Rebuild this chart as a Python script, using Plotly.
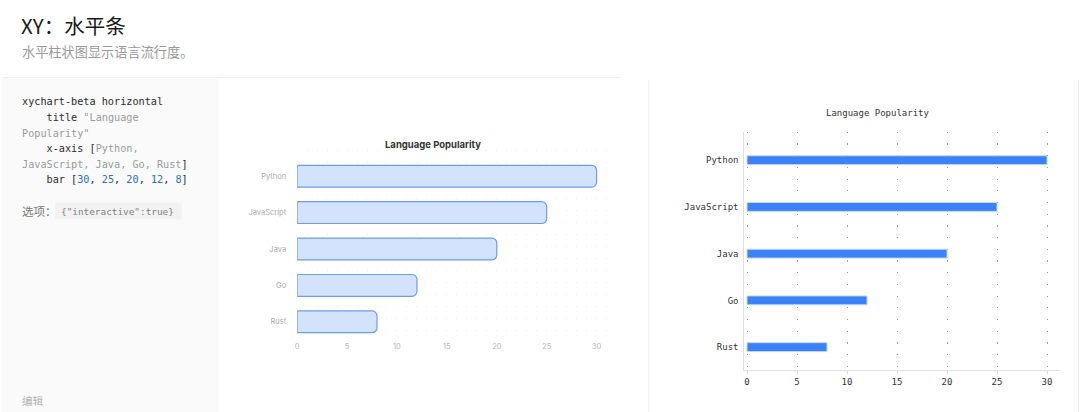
import plotly.graph_objects as go

# ---------------------------------------------------------
# data
# ---------------------------------------------------------
LANGS = ["Python", "JavaScript", "Java", "Go", "Rust"]
POPULARITY = [30, 25, 20, 12, 8]
X_TICKS = [0, 5, 10, 15, 20, 25, 30]
CHART_TITLE = "Language Popularity"

W, H = 1080, 412
MONO = "DejaVu Sans Mono"
SANS = "Inter, Noto Sans CJK SC, sans-serif"
CJK = "Noto Sans CJK SC, sans-serif"


def px(x):
    return x / W


def py(y):
    return 1 - y / H


fig = go.Figure()

# middle preview: rounded light bars
fig.add_trace(go.Bar(
    x=POPULARITY, y=LANGS, orientation="h",
    marker=dict(color="#d3e2fd", line=dict(color="#6d9de9", width=1.2),
                cornerradius=5),
    width=0.6, xaxis="x", yaxis="y", showlegend=False, hoverinfo="x+y",
))

# right preview: thin solid bars
fig.add_trace(go.Bar(
    x=POPULARITY, y=LANGS, orientation="h",
    marker=dict(color="#3b82f6", line=dict(color="#c4d9fb", width=1)),
    width=0.19, xaxis="x2", yaxis="y2", showlegend=False, hoverinfo="x+y",
))

# ---------------------------------------------------------
# panels
# ---------------------------------------------------------
shapes = [
    dict(type="rect", xref="paper", yref="paper", x0=0, x1=px(217),
         y0=0, y1=py(78), fillcolor="#fafafa", line_width=0, layer="below"),
    dict(type="line", xref="paper", yref="paper", x0=0, x1=px(620),
         y0=py(77.5), y1=py(77.5), line=dict(color="#f1f1f1", width=1)),
    dict(type="line", xref="paper", yref="paper", x0=px(648), x1=px(648),
         y0=0, y1=py(80), line=dict(color="#ececec", width=1)),
    dict(type="line", xref="paper", yref="paper", x0=px(1078.5), x1=px(1078.5),
         y0=0, y1=py(80), line=dict(color="#f0f0f0", width=1)),
    dict(type="rect", xref="paper", yref="paper", x0=px(53), x1=px(180),
         y0=py(219.5), y1=py(202.5), fillcolor="#f2f2f2", line_width=0,
         layer="below"),
]

DARK = "#2b2b2b"
GREY = "#9a9a9a"
BLUE = "#2f6fc0"
NB = "\u00a0"


def seg(t, c):
    return f'<span style="color:{c}">{t}</span>'


code_lines = [
    seg("xychart-beta horizontal", DARK),
    NB * 4 + seg("title", DARK) + NB + seg('"Language', GREY),
    seg('Popularity"', GREY),
    NB * 4 + seg("x-axis [", DARK) + seg("Python,", GREY),
    seg("JavaScript, Java, Go, Rust", GREY) + seg("]", DARK),
    NB * 4 + seg("bar [", DARK)
    + seg(", ", DARK).join(seg(str(v), BLUE) for v in POPULARITY)
    + seg("]", DARK),
]
code_y = [101.7, 117.7, 133.3, 148.7, 164, 179.3]
LEFT = 18  # annotation text carries ~3px of padding

annotations = [
    dict(text="XY：水平条", x=px(LEFT - 0.5), y=py(25),
         font=dict(family=CJK, size=20.5, color="#1a1a1a")),
    dict(text="水平柱状图显示语言流行度。", x=px(LEFT), y=py(51),
         font=dict(family=CJK, size=13.2, color="#9a9a9a")),
    dict(text="选项：", x=px(LEFT), y=py(211), font=dict(family=CJK, size=11.5, color="#777")),
    dict(text='{"interactive":true}', x=px(57), y=py(211),
         font=dict(family=MONO, size=9.4, color="#808080")),
    dict(text="编辑", x=px(LEFT), y=py(400), font=dict(family=CJK, size=10.5, color="#b5b5b5")),
    dict(text=f"<b>{CHART_TITLE}</b>", x=px(432), y=py(145), xanchor="center",
         font=dict(family=SANS, size=9.5, color="#333")),
    dict(text=CHART_TITLE, x=px(878), y=py(113), xanchor="center",
         font=dict(family=MONO, size=9, color="#333")),
]
for t, yy in zip(code_lines, code_y):
    annotations.append(dict(text=t, x=px(LEFT), y=py(yy),
                            font=dict(family=MONO, size=10.2, color=DARK)))

for a in annotations:
    a.setdefault("xanchor", "left")
    a.update(xref="paper", yref="paper", yanchor="middle", showarrow=False)

dot_grid = dict(showgrid=True, gridcolor="#ebebeb", gridwidth=1, griddash="1px,11px")

fig.update_layout(
    width=W, height=H,
    margin=dict(l=0, r=0, t=0, b=0),
    paper_bgcolor="#ffffff",
    plot_bgcolor="rgba(0,0,0,0)",
    shapes=shapes,
    annotations=annotations,
    xaxis=dict(
        domain=[px(295.7), px(616)], range=[0, 32.03],
        tickvals=X_TICKS, tickfont=dict(family=SANS, size=7.5, color="#b8b8b8"),
        zeroline=False, showline=False, ticks="",
        minor=dict(dtick=1, **dot_grid), **dot_grid,
        anchor="y", fixedrange=True,
    ),
    yaxis=dict(
        domain=[py(340), py(150)], range=[4.5, -0.72],
        type="category", categoryorder="array", categoryarray=LANGS,
        tickfont=dict(family=SANS, size=7.5, color="#aaaaaa"),
        showgrid=False, zeroline=False, showline=False, ticks="",
        ticklabelstandoff=10, anchor="x", fixedrange=True,
    ),
    xaxis2=dict(
        domain=[px(743.7), px(1059)], range=[-0.27, 31.2],
        tickvals=X_TICKS, tickfont=dict(family=MONO, size=9, color="#333"),
        zeroline=False, showline=True, linecolor="#dedede", linewidth=1,
        ticks="outside", ticklen=3, tickcolor="#dedede",
        showgrid=True, gridcolor="#9a9a9a", gridwidth=1, griddash="1.2px,10.5px",
        anchor="y2", fixedrange=True,
    ),
    yaxis2=dict(
        domain=[py(370), py(131.7)], range=[4.49, -0.61],
        type="category", categoryorder="array", categoryarray=LANGS,
        tickfont=dict(family=MONO, size=9, color="#333"),
        showgrid=False, zeroline=False, showline=True, linecolor="#dedede",
        linewidth=1, ticks="", ticklabelstandoff=3,
        anchor="x2", fixedrange=True,
    ),
)

# the page's default body margin would push the figure off the window edge
fig.write_html("out.html", config={"displayModeBar": False},
               post_script="document.body.style.margin='0';")
